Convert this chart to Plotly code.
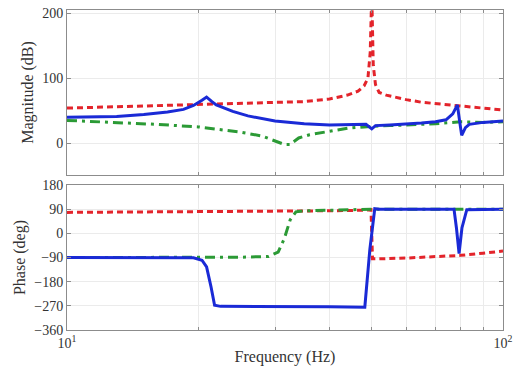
import plotly.graph_objects as go

# ---- data ----
red_mag_f = [10, 15, 20, 25, 30, 35, 40, 44, 46.5, 48, 49, 49.6, 50, 50.4, 51, 52, 54, 57, 60, 65, 70, 75, 80, 90, 100]
red_mag_v = [54, 57, 59, 61, 62, 64, 68, 74, 80, 88, 100, 140, 230, 120, 90, 78, 74, 70, 67, 63, 61, 59, 57, 54, 51]

green_mag_f = [10, 13, 16, 20, 22, 25, 28, 30, 31.5, 32.5, 34, 36, 40, 44, 48, 50, 55, 60, 70, 80, 90, 100]
green_mag_v = [35, 32, 29, 25, 22, 17, 11, 4, -2, -2, 8, 13, 18, 23, 25, 26, 27, 28, 30, 33, 32, 33]

blue_mag_f = [10, 13, 15, 17, 18.5, 19.5, 20.4, 20.9, 21.5, 22, 24, 26, 30, 35, 40, 45, 48.5, 50, 51, 55, 60, 65, 70, 74, 76.7, 78.6, 79.6, 80.4, 82, 83.7, 90, 100]
blue_mag_v = [40, 41, 44, 48, 52, 58, 66, 71, 64, 59, 49, 42, 34, 30, 28, 28, 29, 22, 27, 28, 29, 31, 33, 36, 45, 59, 32, 12, 24, 29, 32, 34]

red_ph_f = [10, 20, 30, 40, 48, 49.8, 50.2, 52, 60, 70, 80, 90, 100]
red_ph_v = [78, 80, 82, 84, 86, 88, -95, -95, -92, -88, -82, -74, -66]

green_ph_f = [10, 20, 25, 29, 30.5, 31.5, 32.5, 33.5, 35, 40, 45, 50, 60, 80, 100]
green_ph_v = [-90, -90, -89, -86, -70, -20, 50, 80, 84, 86, 88, 90, 90, 90, 90]

blue_ph_f = [10, 15, 19.5, 20.4, 20.9, 21.4, 21.8, 22.5, 30, 40, 48.2, 49.5, 50.8, 52, 60, 70, 77.2, 78.2, 79.3, 80.5, 82.6, 90, 100]
blue_ph_v = [-90, -90, -91, -100, -125, -200, -268, -272, -272, -273, -275, -60, 92, 90, 90, 90, 90, 20, -75, 20, 88, 89, 90]

mag_ticks = [0, 100, 200]
ph_ticks = [-360, -270, -180, -90, 0, 90, 180]
x_ticks = [10, 100]
x_ticktext = ["10<sup>1</sup>", "10<sup>2</sup>"]
x_minor = [20, 30, 40, 50, 60, 70, 80, 90]

RED = "#e3242b"
GREEN = "#2b9a35"
BLUE = "#1a2ad6"
FONT = "Liberation Serif, Times New Roman, DejaVu Serif, serif"
RED_DASH = "6px,4px"
GREEN_DASH = "10px,5px,3px,5px"
TICK_SIZE = 14
TITLE_SIZE = 16

fig = go.Figure()
fig.add_trace(go.Scatter(x=red_mag_f, y=red_mag_v, mode="lines", line=dict(color=RED, width=3, dash=RED_DASH), xaxis="x", yaxis="y"))
fig.add_trace(go.Scatter(x=green_mag_f, y=green_mag_v, mode="lines", line=dict(color=GREEN, width=3, dash=GREEN_DASH), xaxis="x", yaxis="y"))
fig.add_trace(go.Scatter(x=blue_mag_f, y=blue_mag_v, mode="lines", line=dict(color=BLUE, width=3), xaxis="x", yaxis="y"))
fig.add_trace(go.Scatter(x=red_ph_f, y=red_ph_v, mode="lines", line=dict(color=RED, width=3, dash=RED_DASH), xaxis="x2", yaxis="y2"))
fig.add_trace(go.Scatter(x=green_ph_f, y=green_ph_v, mode="lines", line=dict(color=GREEN, width=3, dash=GREEN_DASH), xaxis="x2", yaxis="y2"))
fig.add_trace(go.Scatter(x=blue_ph_f, y=blue_ph_v, mode="lines", line=dict(color=BLUE, width=3), xaxis="x2", yaxis="y2"))

axis_common = dict(showline=True, linecolor="#8c8c8c", linewidth=1, mirror="ticks",
                   ticks="inside", ticklen=4, tickcolor="#8c8c8c", automargin=False,
                   showgrid=True, gridcolor="#ebebeb", gridwidth=1, zeroline=False,
                   tickfont=dict(family=FONT, size=TICK_SIZE, color="#333"))

xbase = dict(type="log", range=[1, 2], tickvals=x_ticks,
             minor=dict(tickvals=x_minor, showgrid=True, gridcolor="#ebebeb", ticks="inside", ticklen=3, tickcolor="#8c8c8c"),
             **axis_common)

fig.update_layout(
    width=519, height=366,
    margin=dict(l=67, r=16, t=10, b=36),
    paper_bgcolor="white", plot_bgcolor="white",
    showlegend=False,
    font=dict(family=FONT, size=TICK_SIZE, color="#333"),
    xaxis=dict(anchor="y", showticklabels=False, **xbase),
    xaxis2=dict(anchor="y2", matches="x", ticktext=x_ticktext, showticklabels=True,
                title=dict(text="Frequency (Hz)", font=dict(family=FONT, size=TITLE_SIZE), standoff=1), **xbase),
    yaxis=dict(domain=[0.4844, 1.0], range=[-49, 205], tickvals=mag_ticks, anchor="x",
               title=dict(text="Magnitude (dB)", font=dict(family=FONT, size=TITLE_SIZE), standoff=4), **axis_common),
    yaxis2=dict(domain=[0, 0.4531], range=[-360, 180], tickvals=ph_ticks, anchor="x2",
                title=dict(text="Phase (deg)", font=dict(family=FONT, size=TITLE_SIZE), standoff=4), **axis_common),
)

fig.write_html("out.html", config={"displayModeBar": False},
               post_script="document.body.style.margin='0px';")
